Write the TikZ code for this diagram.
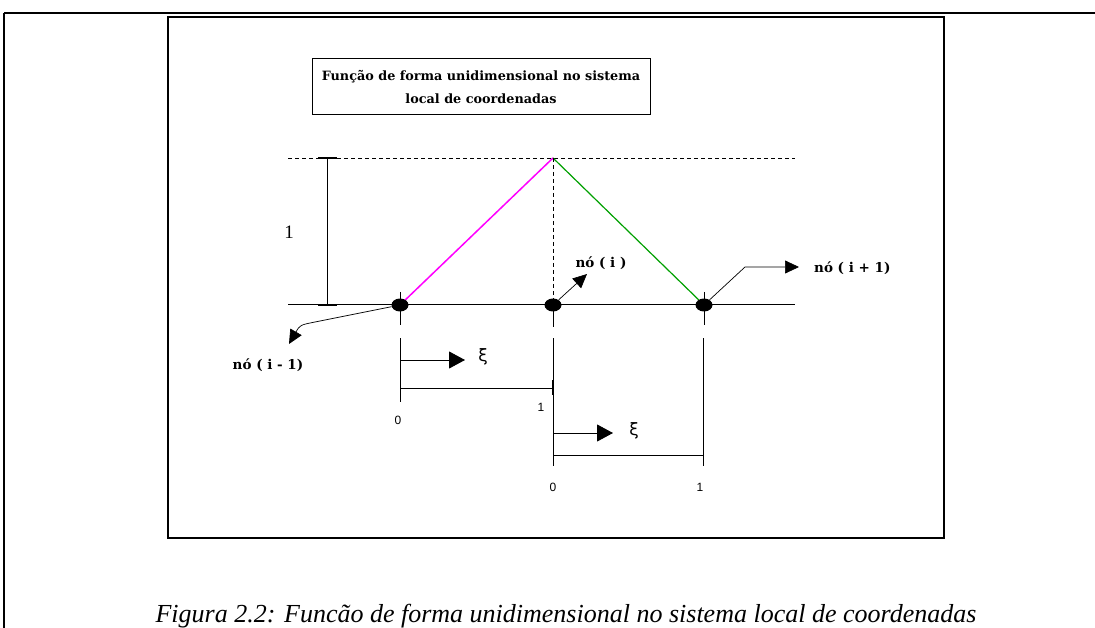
\documentclass[tikz,border=0pt]{standalone}
\usepackage{fontspec}
\setmainfont{Liberation Serif}
\setsansfont{Liberation Sans}
\newfontfamily\boldserif{DejaVu Serif}
\newfontfamily\djsans{DejaVu Sans}
\usetikzlibrary{arrows.meta,shapes.geometric}
\definecolor{puremagenta}{RGB}{255,0,255}
\definecolor{linegreen}{RGB}{0,160,0}
\begin{document}
\begin{tikzpicture}[x=1pt,y=-1pt,
  dotnode/.style={ellipse,fill=black,minimum width=17pt,minimum height=13pt,inner sep=0pt},
  lead/.style={line width=0.7pt,-{Triangle[length=14pt,width=13pt]}},
  brackarrow/.style={line width=0.9pt,-{Triangle[length=16pt,width=17pt]}},
  dashline/.style={line width=0.8pt,dash pattern=on 4pt off 3pt},
  plain/.style={line width=1pt},
  nolabel/.style={font=\boldserif\bfseries\fontsize{13.5}{15}\selectfont,inner sep=0pt},
  num/.style={font=\sffamily\fontsize{12}{14}\selectfont,inner sep=0pt},
  xilabel/.style={font=\djsans\fontsize{17}{19}\selectfont,inner sep=0pt}
]
\useasboundingbox (0,0) rectangle (1095,628);
% outer frame
\draw[line width=2pt] (4,13) -- (1095,13);
\draw[line width=1.5pt] (4,13) -- (4,628);
% inner frame
\draw[line width=2pt] (168,17) rectangle (944,538);
% title
\node[draw,line width=1pt,minimum width=338pt,minimum height=56pt,align=center,inner sep=0pt,
  font=\boldserif\bfseries\fontsize{12.8}{23}\selectfont] (title) at (481,87)
  {Função de forma unidimensional no sistema\\local de coordenadas};
% coordinates
\coordinate (topL) at (288,158);
\coordinate (topR) at (795,158);
\coordinate (axL) at (288,305);
\coordinate (axR) at (795,305);
\coordinate (peak) at (553,158);
% guide lines
\draw[dashline] (topL) -- (topR);
\draw[plain] (axL) -- (axR);
% height bar
\coordinate (barT) at (327,158);
\coordinate (barB) at (327,305);
\draw[plain] (barT) -- (barB);
\draw[line width=2pt] (318,158) -- (337,158);
\draw[line width=2pt] (318,305) -- (337,305);
\node[font=\fontsize{19}{21}\selectfont,inner sep=0pt] (one) at (289,232) {1};
% shape function
\draw[puremagenta,line width=1.5pt] (400,305) -- (peak);
\draw[linegreen,line width=1.2pt] (peak) -- (704,305);
% ticks at nodes
\draw[plain] (400,292) -- (400,325);
\draw[plain] (704,292) -- (704,325);
\draw[dashline] (553,158) -- (553,305);
\draw[plain] (553,305) -- (553,327);
% nodes
\node[dotnode] (n0) at (400,305) {};
\node[dotnode] (n1) at (553,305) {};
\node[dotnode] (n2) at (704,305) {};
% leaders
\coordinate (l0a) at (315,322);
\coordinate (l0b) at (289,344);
\draw[lead] (n0) -- (l0a) .. controls (300,325) .. (l0b);
\node[nolabel] (lab0) at (268,365) {nó ( i - 1)};
\coordinate (l1a) at (587,274);
\draw[lead] (n1) -- (l1a);
\node[nolabel] (lab1) at (601,263) {nó ( i )};
\coordinate (l2a) at (745,267);
\coordinate (l2b) at (799,267);
\draw[lead] (n2) -- (l2a) -- (l2b);
\node[nolabel,anchor=west] (lab2) at (814,268) {nó ( i + 1)};
% local coordinate system 1
\draw[plain] (400,338) -- (400,402);
\coordinate (a1s) at (400,360);
\coordinate (a1e) at (465,360);
\draw[brackarrow] (a1s) -- (a1e);
\node[xilabel] (xi1) at (483,357) {ξ};
\draw[plain] (400,388) -- (553,388);
\draw[line width=2.5pt] (553,380) -- (553,395);
\node[num] (z1) at (398,420) {0};
\node[num] (o1) at (541,407) {1};
% local coordinate system 2
\draw[plain] (553,338) -- (553,466);
\draw[plain] (703,338) -- (703,466);
\coordinate (a2s) at (553,433);
\coordinate (a2e) at (613,433);
\draw[brackarrow] (a2s) -- (a2e);
\node[xilabel] (xi2) at (634,431) {ξ};
\draw[plain] (553,455) -- (703,455);
\node[num] (z2) at (553,487) {0};
\node[num] (o2) at (700,487) {1};
% caption
\node[font=\itshape\fontsize{26}{30}\selectfont,inner sep=0pt,anchor=base] (cap) at (566,622)
  {Figura 2.2: Funcão de forma unidimensional no sistema local de coordenadas};
\end{tikzpicture}
\end{document}
